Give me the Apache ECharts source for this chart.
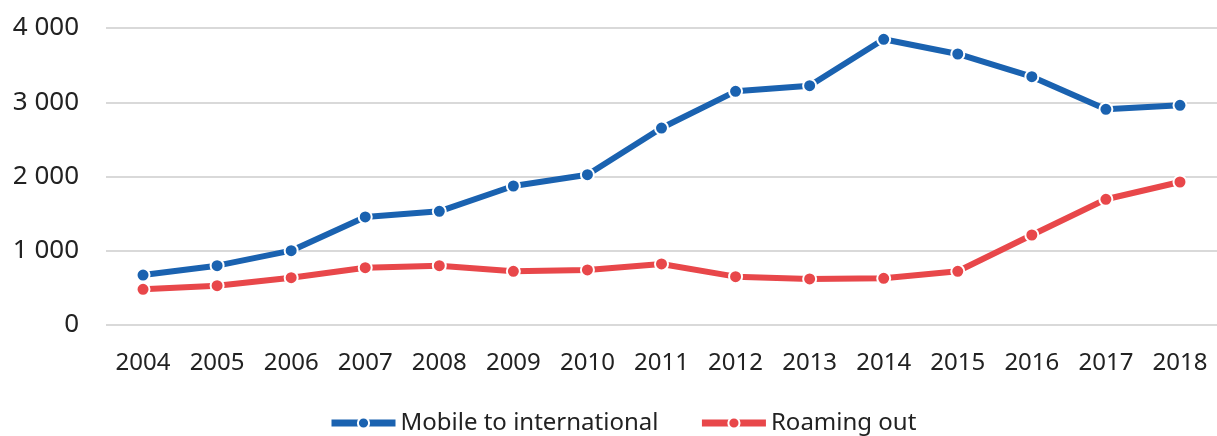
<!DOCTYPE html>
<html><head><meta charset="utf-8">
<script src="https://cdn.jsdelivr.net/npm/echarts@6/dist/echarts.min.js"></script>
<style>html,body{margin:0;padding:0;background:#fff}#c{width:1217px;height:436px}</style>
</head><body><div id="c"></div>
<script>
var years = ['2004','2005','2006','2007','2008','2009','2010','2011','2012','2013','2014','2015','2016','2017','2018'];
var mobileToInternational = [673, 799, 1001, 1455, 1531, 1872, 2024, 2653, 3147, 3223, 3848, 3650, 3344, 2905, 2959];
var roamingOut = [481, 529, 637, 772, 799, 723, 741, 822, 651, 620, 629, 723, 1212, 1693, 1926];
var yTicks = [0, 1000, 2000, 3000, 4000];

var chart = echarts.init(document.getElementById('c'), null, {renderer:'canvas'});
function fmt(v){ var s=String(v); return s.length>3 ? s.slice(0,s.length-3)+' '+s.slice(-3) : s; }
var font = "'Noto Sans', sans-serif";
chart.setOption({
  animation:false,
  grid:{left:106, right:0, top:28, bottom:111, containLabel:false},
  legend:{
    top:406, left:323, itemWidth:64, itemHeight:14, itemGap:40,
    textStyle:{fontFamily:font, fontSize:24, color:'#222'},
    lineStyle:{width:7},
    data:['Mobile to international','Roaming out']
  },
  xAxis:{
    type:'category', data:years, boundaryGap:true,
    axisLine:{show:false}, axisTick:{show:false},
    axisLabel:{fontFamily:font, fontSize:24, color:'#222', margin:26, interval:0}
  },
  yAxis:{
    type:'value', min:yTicks[0], max:yTicks[yTicks.length-1], interval:1000,
    axisLine:{show:false}, axisTick:{show:false},
    splitLine:{lineStyle:{color:'#d9d9d9', width:2}},
    axisLabel:{fontFamily:font, fontSize:26, color:'#222', margin:27, formatter:fmt}
  },
  series:[
    {name:'Mobile to international', type:'line', data:mobileToInternational,
     symbol:'circle', symbolSize:13, lineStyle:{color:'#1a62b0', width:6},
     itemStyle:{color:'#1a62b0', borderColor:'#fff', borderWidth:2}},
    {name:'Roaming out', type:'line', data:roamingOut,
     symbol:'circle', symbolSize:13, lineStyle:{color:'#e8474a', width:6},
     itemStyle:{color:'#e8474a', borderColor:'#fff', borderWidth:2}}
  ]
});
</script></body></html>
